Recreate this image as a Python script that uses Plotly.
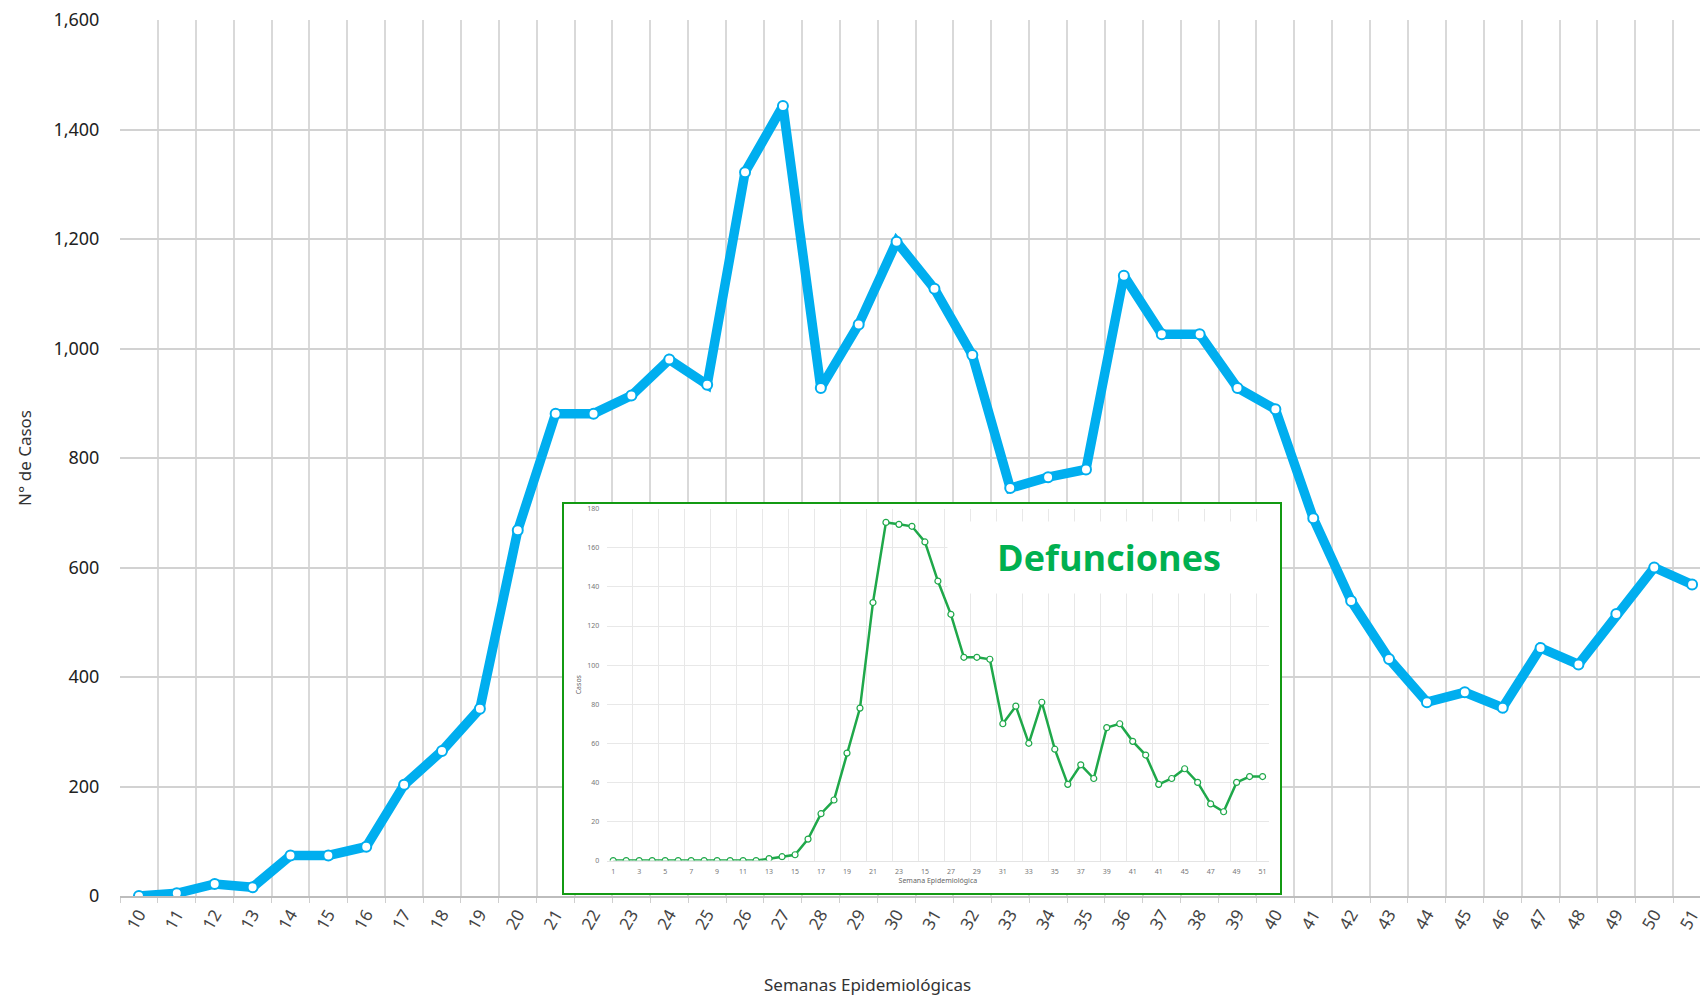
import plotly.graph_objects as go

# Main chart: confirmed cases per epidemiological week
weeks = list(range(10, 52))
cases = [0, 5, 22, 16, 74, 74, 90, 203, 265, 342, 668, 881, 881, 914, 980, 934,
         1322, 1443, 928, 1044, 1195, 1109, 988, 745, 765, 779, 1133, 1026, 1026,
         928, 889, 690, 539, 433, 354, 372, 344, 453, 423, 515, 600, 569]

# Inset: deaths per epidemiological week
death_weeks = list(range(1, 52))
deaths = [0, 0, 0, 0, 0, 0, 0, 0, 0, 0, 0, 0, 1, 2, 3, 11, 24, 31, 55, 78,
          132, 173, 172, 171, 163, 143, 126, 104, 104, 103, 70, 79, 60, 81, 57,
          39, 49, 42, 68, 70, 61, 54, 39, 42, 47, 40, 29, 25, 40, 43, 43]
inset_tickvals = list(range(1, 52, 2))
inset_ticktext = ["1", "3", "5", "7", "9", "11", "13", "15", "17", "19", "21", "23",
                  "15", "27", "29", "31", "33", "35", "37", "39", "41", "41", "45",
                  "47", "49", "51"]

FONT = "Noto Sans"
BLUE = "#00aeef"
GREEN = "#1fa84a"

fig = go.Figure()

fig.add_trace(go.Scatter(
    x=weeks, y=cases, mode="lines+markers",
    line=dict(color=BLUE, width=9.5),
    marker=dict(size=10, color="white", line=dict(color=BLUE, width=2)),
    hoverinfo="skip", showlegend=False, xaxis="x", yaxis="y"))

# cover panel for the inset (white background + green frame)
fig.add_trace(go.Scatter(x=[], y=[], xaxis="x2", yaxis="y2",
                         showlegend=False, hoverinfo="skip"))

fig.add_trace(go.Scatter(
    x=death_weeks, y=deaths, mode="lines+markers",
    line=dict(color=GREEN, width=2.5),
    marker=dict(size=6, color="white", line=dict(color=GREEN, width=1.2)),
    hoverinfo="skip", showlegend=False, xaxis="x3", yaxis="y3"))

fig.update_layout(
    width=1700, height=987,
    margin=dict(l=112, r=0, t=12, b=99),
    paper_bgcolor="white", plot_bgcolor="white",
    font=dict(family=FONT, color="#222"),
    xaxis=dict(
        domain=[0, 1], range=[9.5, 51.42],
        tickmode="array", tickvals=weeks, ticktext=[str(w) for w in weeks],
        tickangle=-60, tickfont=dict(size=17, color="#444"),
        showgrid=False, zeroline=False,
        showline=True, linecolor="#bdbdbd", linewidth=2,
        minor=dict(tickmode="array", tickvals=[w - 0.5 for w in weeks] + [51.5],
                   showgrid=True, gridcolor="#d9d9d9", gridwidth=1.5,
                   ticks="outside", ticklen=5, tickcolor="#cfcfcf"),
    ),
    yaxis=dict(
        domain=[0, 1], range=[0, 1600], tickmode="linear", tick0=0, dtick=200,
        tickformat=",", tickfont=dict(size=18, color="#222"),
        ticklabeloverflow="allow",
        showgrid=True, gridcolor="#d2d2d2", gridwidth=1.5, zeroline=False,
        ticks="outside", ticklen=16, tickcolor="rgba(0,0,0,0)",
    ),
    xaxis2=dict(domain=[0.2796, 0.7305], range=[0, 1], anchor="y2",
                showgrid=False, zeroline=False, showticklabels=False,
                showline=True, mirror=True, linecolor="#139a13", linewidth=2),
    yaxis2=dict(domain=[0.0034, 0.4475], range=[0, 1], anchor="x2",
                showgrid=False, zeroline=False, showticklabels=False,
                showline=True, mirror=True, linecolor="#139a13", linewidth=2),
    xaxis3=dict(domain=[0.3065, 0.7236], range=[0.5, 51.5], anchor="y3",
                tickmode="array", tickvals=inset_tickvals, ticktext=inset_ticktext,
                tickfont=dict(size=7, color="#777"), showgrid=False, zeroline=False,
                showline=True, linecolor="#e4e4e4", linewidth=1,
                ticks="outside", ticklen=4, tickcolor="rgba(0,0,0,0)",
                minor=dict(tickmode="array", tickvals=[v - 0.5 for v in inset_tickvals] + [51.5],
                           showgrid=True, gridcolor="#e8e8e8", gridwidth=1),
                title=dict(text="Semana Epidemiológica", font=dict(size=7, color="#666"),
                           standoff=2)),
    yaxis3=dict(domain=[0.0404, 0.4421], range=[0, 180], anchor="x3",
                tickmode="linear", tick0=0, dtick=20,
                tickfont=dict(size=7, color="#777"),
                showgrid=True, gridcolor="#e8e8e8", gridwidth=1, zeroline=False,
                ticks="outside", ticklen=5, tickcolor="rgba(0,0,0,0)",
                title=dict(text="Casos", font=dict(size=7, color="#666"), standoff=4)),
    annotations=[
        dict(text="Semanas Epidemiológicas", xref="paper", yref="paper",
             x=0.471, y=-0.1005, xanchor="center", yanchor="middle",
             showarrow=False, font=dict(size=17, color="#333")),
        dict(text="N° de Casos", xref="paper", yref="paper",
             x=-0.0605, y=0.5, xanchor="center", yanchor="middle", textangle=-90,
             showarrow=False, font=dict(size=17, color="#333")),
        dict(text="<b>Defunciones</b>", xref="paper", yref="paper",
             x=0.6227, y=0.3865, xanchor="center", yanchor="middle",
             width=320, height=69, bgcolor="white", showarrow=False,
             font=dict(family="Open Sans", size=36, color="#00b050")),
    ],
)

fig.write_html("out.html")
